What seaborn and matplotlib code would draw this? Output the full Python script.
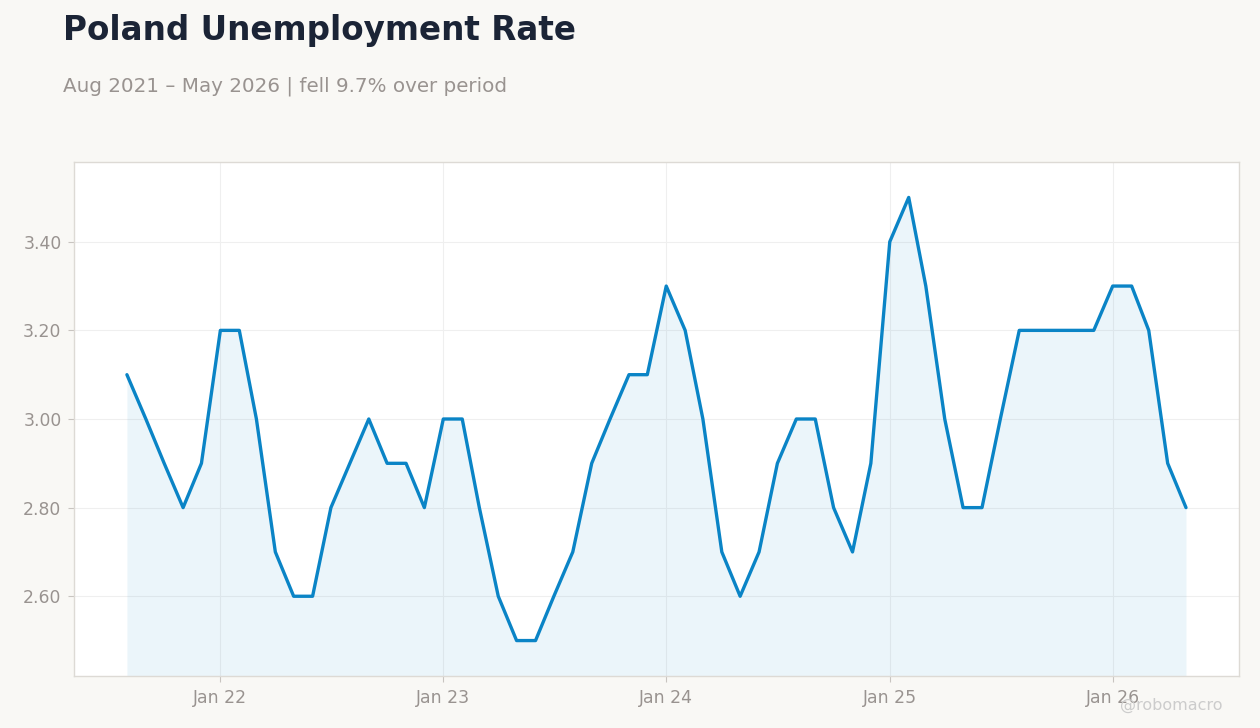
import matplotlib
matplotlib.use("Agg")
import matplotlib.pyplot as plt
import matplotlib.dates as mdates
import seaborn as sns
import pandas as pd

# monthly unemployment rate, Aug 2021 .. May 2026
months = pd.date_range("2021-08-01", "2026-05-01", freq="MS")
rate = [3.1, 3.0, 2.9, 2.8, 2.9,
        3.2, 3.2, 3.0, 2.7, 2.6, 2.6, 2.8, 2.9, 3.0, 2.9, 2.9, 2.8,
        3.0, 3.0, 2.8, 2.6, 2.5, 2.5, 2.6, 2.7, 2.9, 3.0, 3.1, 3.1,
        3.3, 3.2, 3.0, 2.7, 2.6, 2.7, 2.9, 3.0, 3.0, 2.8, 2.7, 2.9,
        3.4, 3.5, 3.3, 3.0, 2.8, 2.8, 3.0, 3.2, 3.2, 3.2, 3.2, 3.2,
        3.3, 3.3, 3.2, 2.9, 2.8]

df = pd.DataFrame({"date": months, "rate": rate})

line_color = "#0a84c6"
bg = "#f9f8f5"
muted = "#999390"

sns.set_theme(style="white")
plt.rcParams["font.family"] = ["DejaVu Sans"]

fig = plt.figure(figsize=(12.6, 7.28), dpi=100, facecolor=bg)
ax = fig.add_axes([0.0587, 0.0714, 0.9246, 0.7061])
ax.set_facecolor("white")

sns.lineplot(data=df, x="date", y="rate", ax=ax, color=line_color, linewidth=2.4)

lo = min(rate) - 0.08
hi = max(rate) + 0.08
ax.set_ylim(lo, hi)
ax.fill_between(df["date"], df["rate"], lo, color=line_color, alpha=0.08, linewidth=0)

ax.xaxis.set_major_locator(mdates.YearLocator())
ax.xaxis.set_major_formatter(mdates.DateFormatter("Jan %y"))
ax.yaxis.set_major_formatter(matplotlib.ticker.FormatStrFormatter("%.2f"))
ax.set_yticks([2.6, 2.8, 3.0, 3.2, 3.4])

ax.grid(True, color="#efefef", linewidth=0.8)
ax.set_axisbelow(True)
for s in ax.spines.values():
    s.set_color("#dddad5")
    s.set_linewidth(1)
ax.tick_params(axis="both", colors=muted, labelsize=12.4, length=4, width=0.8,
               pad=5, left=True, bottom=True)
ax.tick_params(axis="both", color="#c8c4c0")
ax.set_xlabel("")
ax.set_ylabel("")

fig.text(0.05, 0.945, "Poland Unemployment Rate", fontsize=23.5, fontweight="bold",
         color="#1b2436", va="baseline")
fig.text(0.05, 0.874, "Aug 2021 \u2013 May 2026 | fell 9.7% over period", fontsize=14.3,
         color=muted, va="baseline")
fig.text(0.97, 0.025, "@robomacro", fontsize=11.5, color="#cccccc", ha="right", va="baseline")

fig.savefig("out.png", dpi=100, facecolor=bg)
